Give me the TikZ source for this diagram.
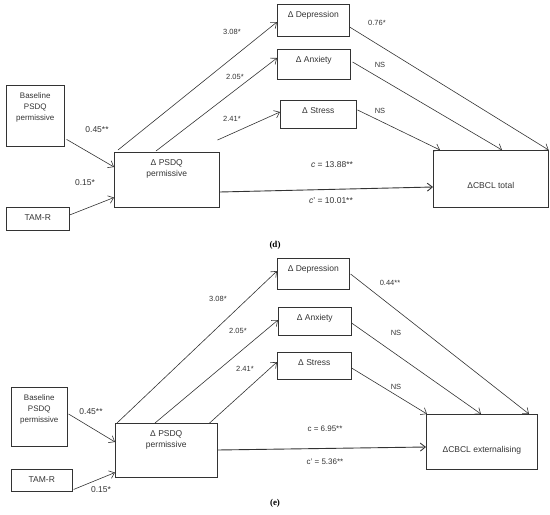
\documentclass[tikz,border=0pt]{standalone}
\usepackage{fontspec}
\setmainfont{Liberation Sans}
\newfontfamily\capfont{Liberation Serif}
\usetikzlibrary{positioning}
\usetikzlibrary{calc}
\usetikzlibrary{arrows.meta}

\tikzset{
  box/.style={draw=black!80, line width=0.6pt, inner xsep=2pt, inner ysep=7pt,
    align=center, anchor=north west, text=black!80,
    font=\fontsize{8.5}{11}\selectfont},
  conn/.style={draw=black!80, line width=0.6pt, -{Straight Barb[length=5pt,width=8pt]}},
  coef/.style={text=black!80, inner sep=0pt, font=\fontsize{7.5}{9}\selectfont},
  panel/.style={inner sep=0pt, font=\capfont\bfseries\fontsize{9}{11}\selectfont}
}

\begin{document}
\begin{tikzpicture}[x=1pt,y=-1pt]
\useasboundingbox (0,0) rectangle (550,515);

% (d)
\node[box, minimum width=58pt, text depth=19pt, font=\fontsize{8}{11}\selectfont] (base) at (6,85) {Baseline\\PSDQ\\permissive};
\node[box, minimum width=63pt, text depth=3pt] (tam) at (6,207) {TAM-R};
\node[box, minimum width=105pt, text depth=24pt] (psdq) at (114,152) {Δ PSDQ\\permissive};
\node[box, minimum width=72pt, text depth=12pt] (dep) at (277,4) {Δ Depression};
\node[box, minimum width=73pt, text depth=10pt] (anx) at (277,49) {Δ Anxiety};
\node[box, minimum width=76pt, text depth=8pt] (str) at (280,100) {Δ Stress};
\node[box, minimum width=115pt, text height=31pt, text depth=12pt] (cbcl) at (433,150) {ΔCBCL total};

\draw[conn] ($(base.south east)+(2,-7)$) -- ($(psdq.north west)+(0,15)$);
\draw[conn] ($(tam.north east)+(0,8)$) -- ($(psdq.south west)+(0,-10)$);
\draw[conn] ($(psdq.north west)+(4,-2)$) -- ($(dep.north west)+(0,18)$);
\draw[conn] ($(psdq.north west)+(42,-1)$) -- ($(anx.north west)+(0,9)$);
\draw[conn] ($(psdq.north east)+(-2,-12)$) -- ($(str.north west)+(0,12)$);
\draw[conn, line width=0.9pt] ($(psdq.north east)+(0,40)$) -- ($(cbcl.north west)+(0,37)$);
\draw[conn] ($(dep.north east)+(0,23)$) -- (cbcl.north east);
\draw[conn] ($(anx.north east)+(2,13)$) -- ($(cbcl.north west)+(69,0)$);
\draw[conn] ($(str.north east)+(1,10)$) -- ($(cbcl.north west)+(7,0)$);

\node[coef] (ld1) at (232,32) {3.08*};
\node[coef] (ld2) at (235,77) {2.05*};
\node[coef] (ld3) at (232,119) {2.41*};
\node[coef, font=\fontsize{8.5}{10}\selectfont] (ld4) at (97,130) {0.45**};
\node[coef, font=\fontsize{8.5}{10}\selectfont] (ld5) at (85,183) {0.15*};
\node[coef] (ld6) at (377,23) {0.76*};
\node[coef] (ld7) at (380,65) {NS};
\node[coef] (ld8) at (380,111) {NS};
\node[coef, font=\fontsize{8.5}{10}\selectfont] (ld9) at (332,165) {\textit{c} = 13.88**};
\node[coef, font=\fontsize{8.5}{10}\selectfont] (ld10) at (331,201) {\textit{c}’ = 10.01**};
\node[panel] (capd) at (275,245) {(d)};

% (e)
\node[box, minimum width=56pt, text depth=17pt, font=\fontsize{8}{11}\selectfont] (base2) at (11,387) {Baseline\\PSDQ\\permissive};
\node[box, minimum width=61pt, text depth=2pt] (tam2) at (11,469) {TAM-R};
\node[box, minimum width=102pt, text depth=23pt] (psdq2) at (115,423) {Δ PSDQ\\permissive};
\node[box, minimum width=72pt, text depth=11pt] (dep2) at (277,258) {Δ Depression};
\node[box, minimum width=73pt, text depth=8pt] (anx2) at (278,307) {Δ Anxiety};
\node[box, minimum width=74pt, text depth=7pt] (str2) at (277,352) {Δ Stress};
\node[box, minimum width=111pt, text height=31pt, text depth=10pt] (cbcl2) at (426,414) {ΔCBCL externalising};

\draw[conn] ($(base2.north east)+(1,27)$) -- ($(psdq2.north west)+(0,19)$);
\draw[conn] ($(tam2.south east)+(1,-2)$) -- ($(psdq2.south west)+(0,-5)$);
\draw[conn] ($(psdq2.north west)+(2,0)$) -- ($(dep2.north west)+(0,13)$);
\draw[conn] ($(psdq2.north west)+(40,0)$) -- ($(anx2.north west)+(0,13)$);
\draw[conn] ($(psdq2.north east)+(-8,0)$) -- ($(str2.north west)+(0,10)$);
\draw[conn, line width=0.9pt] ($(psdq2.north east)+(0,27)$) -- ($(cbcl2.north west)+(0,33)$);
\draw[conn] ($(dep2.north east)+(1,16)$) -- ($(cbcl2.north west)+(103,0)$);
\draw[conn] ($(anx2.north east)+(0,16)$) -- ($(cbcl2.north west)+(55,0)$);
\draw[conn] ($(str2.north east)+(0,16)$) -- ($(cbcl2.north west)+(1,0)$);

\node[coef] (le1) at (218,299) {3.08*};
\node[coef] (le2) at (238,331) {2.05*};
\node[coef] (le3) at (245,369) {2.41*};
\node[coef, font=\fontsize{8.5}{10}\selectfont] (le4) at (91,412) {0.45**};
\node[coef, font=\fontsize{8.5}{10}\selectfont] (le5) at (101,490) {0.15*};
\node[coef] (le6) at (390,283) {0.44**};
\node[coef] (le7) at (396,333) {NS};
\node[coef] (le8) at (396,387) {NS};
\node[coef, font=\fontsize{8}{10}\selectfont] (le9) at (325,429) {c = 6.95**};
\node[coef, font=\fontsize{8}{10}\selectfont] (le10) at (325,462) {c’ = 5.36**};
\node[panel] (cape) at (275,503) {(e)};
\end{tikzpicture}
\end{document}
